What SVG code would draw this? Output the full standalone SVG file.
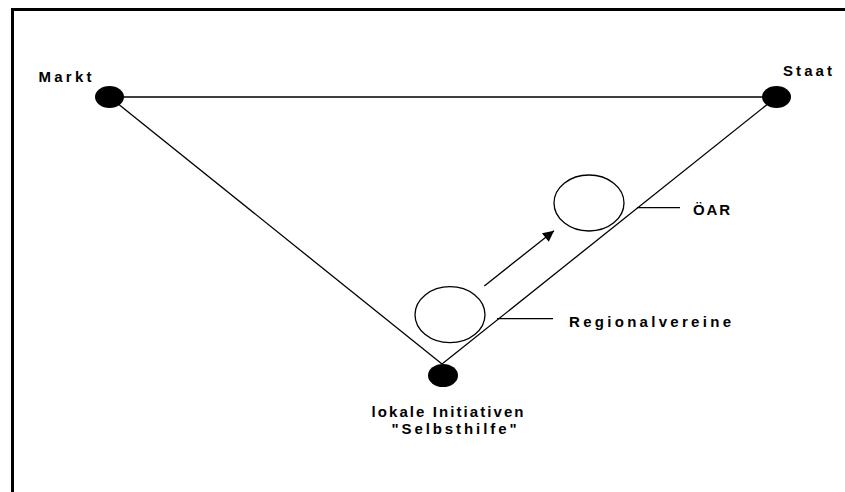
<svg xmlns="http://www.w3.org/2000/svg" width="845" height="492" viewBox="0 0 845 492">
<style>
text{font-family:"Liberation Sans",Arial,sans-serif;font-weight:bold;font-size:15px;fill:#000}
.ln{stroke:#000;stroke-width:1.3;fill:none}
.dot{fill:#000}
.ring{fill:#fff;stroke:#000;stroke-width:1.3}
</style>
<defs>
<marker id="ah" viewBox="0 0 10 10" refX="10" refY="5" markerWidth="16" markerHeight="11" markerUnits="userSpaceOnUse" orient="auto">
<path d="M0,0 L10,5 L0,10 z" fill="#000"/>
</marker>
</defs>
<rect width="845" height="492" fill="#fff"/>
<path d="M12.5,492 V9.5 H845" fill="none" stroke="#000" stroke-width="3"/>
<g id="connectors">
<line class="ln" x1="109.5" y1="97" x2="776.5" y2="97"/>
<line class="ln" x1="109.5" y1="97" x2="442" y2="364"/>
<line class="ln" x1="442" y1="364" x2="776.5" y2="97"/>
<line class="ln" x1="497" y1="318.7" x2="553" y2="318.7"/>
<line class="ln" x1="637" y1="207.7" x2="680" y2="207.7"/>
<line class="ln" x1="484.3" y1="286" x2="554" y2="230.7" marker-end="url(#ah)"/>
</g>
<g id="markt"><ellipse class="dot" cx="109.5" cy="97" rx="14.5" ry="11"/><text x="38.5" y="81.5" textLength="53" lengthAdjust="spacing">Markt</text></g>
<g id="staat"><ellipse class="dot" cx="776.5" cy="97" rx="14.5" ry="11"/><text x="783" y="76" textLength="49" lengthAdjust="spacing">Staat</text></g>
<g id="lokal"><ellipse class="dot" cx="443" cy="375.5" rx="15" ry="11.5"/><text x="371.5" y="416.5" textLength="152" lengthAdjust="spacing">lokale Initiativen</text><text x="391.5" y="434" textLength="125" lengthAdjust="spacing">"Selbsthilfe"</text></g>
<g id="regionalvereine"><ellipse class="ring" cx="450" cy="314.7" rx="35" ry="28"/><text x="569" y="327" textLength="162" lengthAdjust="spacing">Regionalvereine</text></g>
<g id="oear"><ellipse class="ring" cx="589" cy="203" rx="35" ry="28"/><text x="693" y="215" textLength="37" lengthAdjust="spacing">ÖAR</text></g>
</svg>
